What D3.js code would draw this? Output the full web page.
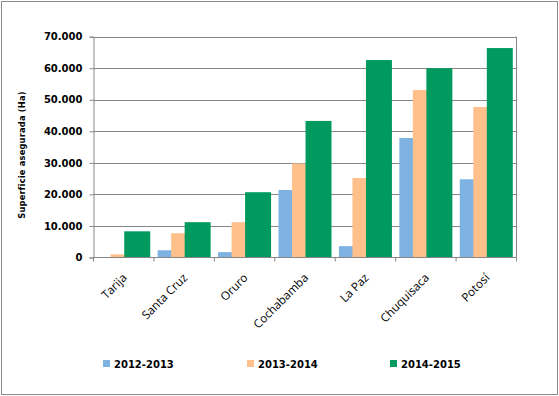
<!DOCTYPE html>
<html><head><meta charset="utf-8">
<script src="https://cdn.jsdelivr.net/npm/d3@7"></script>
<style>body{margin:0;background:#fff}svg{display:block}</style>
</head><body>
<svg id="c" width="559" height="396"></svg>
<script>
const categories = ["Tarija","Santa Cruz","Oruro","Cochabamba","La Paz","Chuquisaca","Potosí"];
const seriesNames = ["2012-2013","2013-2014","2014-2015"];
const s2012 = [0, 2300, 1700, 21400, 3600, 37900, 24800];
const s2013 = [1000, 7700, 11200, 29800, 25200, 53100, 47700];
const s2014 = [8300, 11200, 20700, 43300, 62600, 60000, 66400];
const yTicks = [0,10000,20000,30000,40000,50000,60000,70000];
const colors = ["#7EB2E3","#FFC08C","#009A5E"];
const series = [s2012, s2013, s2014];

const svg = d3.select("#c");
svg.append("rect").attr("x",1.5).attr("y",1.5).attr("width",556).attr("height",393)
  .attr("fill","#fff").attr("stroke","#8a8a8a").attr("stroke-width",1);

const L=93.5, R=516.5, T=36.7, B=257.5;
const x = d3.scaleBand().domain(categories).range([L,R]).padding(0);
const y = d3.scaleLinear().domain([0,70000]).range([B,T]);
const fmt = v => d3.format(",")(v).replace(/,/g,".");

// gridlines
svg.append("g").selectAll("line").data(yTicks.slice(1)).join("line")
  .attr("x1",L).attr("x2",R).attr("y1",d=>Math.round(y(d))+0.5).attr("y2",d=>Math.round(y(d))+0.5)
  .attr("stroke","#868686").attr("stroke-width",1);
// right border of plot area
svg.append("line").attr("x1",R).attr("x2",R).attr("y1",T).attr("y2",B).attr("stroke","#868686");

// bars
const bw = x.bandwidth();
const w = bw*0.43, stp = w*0.52, start = (bw-(w+2*stp))/2;
series.forEach((s,i)=>{
  svg.append("g").selectAll("rect").data(s).join("rect")
    .attr("x",(d,j)=>x(categories[j])+start+i*stp)
    .attr("width",w)
    .attr("y",d=>y(d)).attr("height",d=>B-y(d))
    .attr("fill",colors[i]);
});

// y axis
const ya = svg.append("g").attr("transform",`translate(${L},0)`)
  .call(d3.axisLeft(y).tickValues(yTicks).tickFormat(fmt).tickSize(4).tickPadding(7));
ya.selectAll("path,line").attr("stroke","#868686");
ya.selectAll("text").attr("font-family","DejaVu Sans").attr("font-weight","bold").attr("font-size",10).attr("fill","#000");

// x axis
const xa = svg.append("g").attr("transform",`translate(0,${B})`);
xa.append("line").attr("x1",L).attr("x2",R).attr("y1",0).attr("y2",0).attr("stroke","#868686");
const bounds = categories.map(c=>x(c)).concat([R]);
xa.selectAll("line.t").data(bounds).join("line").attr("class","t")
  .attr("x1",d=>d).attr("x2",d=>d).attr("y1",0).attr("y2",4).attr("stroke","#868686");
xa.selectAll("text").data(categories).join("text")
  .attr("transform",d=>`translate(${x(d)+bw/2+4},${21}) rotate(-45)`)
  .attr("text-anchor","end").attr("font-family","Open Sans, Lato, sans-serif").attr("font-size",11.7)
  .attr("fill","#000").text(d=>d);

// y title
svg.append("text").attr("transform","translate(25,155) rotate(-90)")
  .attr("text-anchor","middle").attr("font-family","DejaVu Sans").attr("font-weight","bold")
  .attr("font-size",8.3).attr("letter-spacing",0.2).attr("fill","#000").text("Superficie asegurada  (Ha)");

// legend
const lx = [103,247,390];
const lg = svg.append("g");
seriesNames.forEach((n,i)=>{
  lg.append("rect").attr("x",lx[i]).attr("y",360).attr("width",7).attr("height",7).attr("fill",colors[i]);
  lg.append("text").attr("x",lx[i]+11).attr("y",367.5).attr("font-family","DejaVu Sans").attr("font-weight","bold")
    .attr("font-size",10).attr("fill","#000").text(n);
});
</script>
</body></html>
